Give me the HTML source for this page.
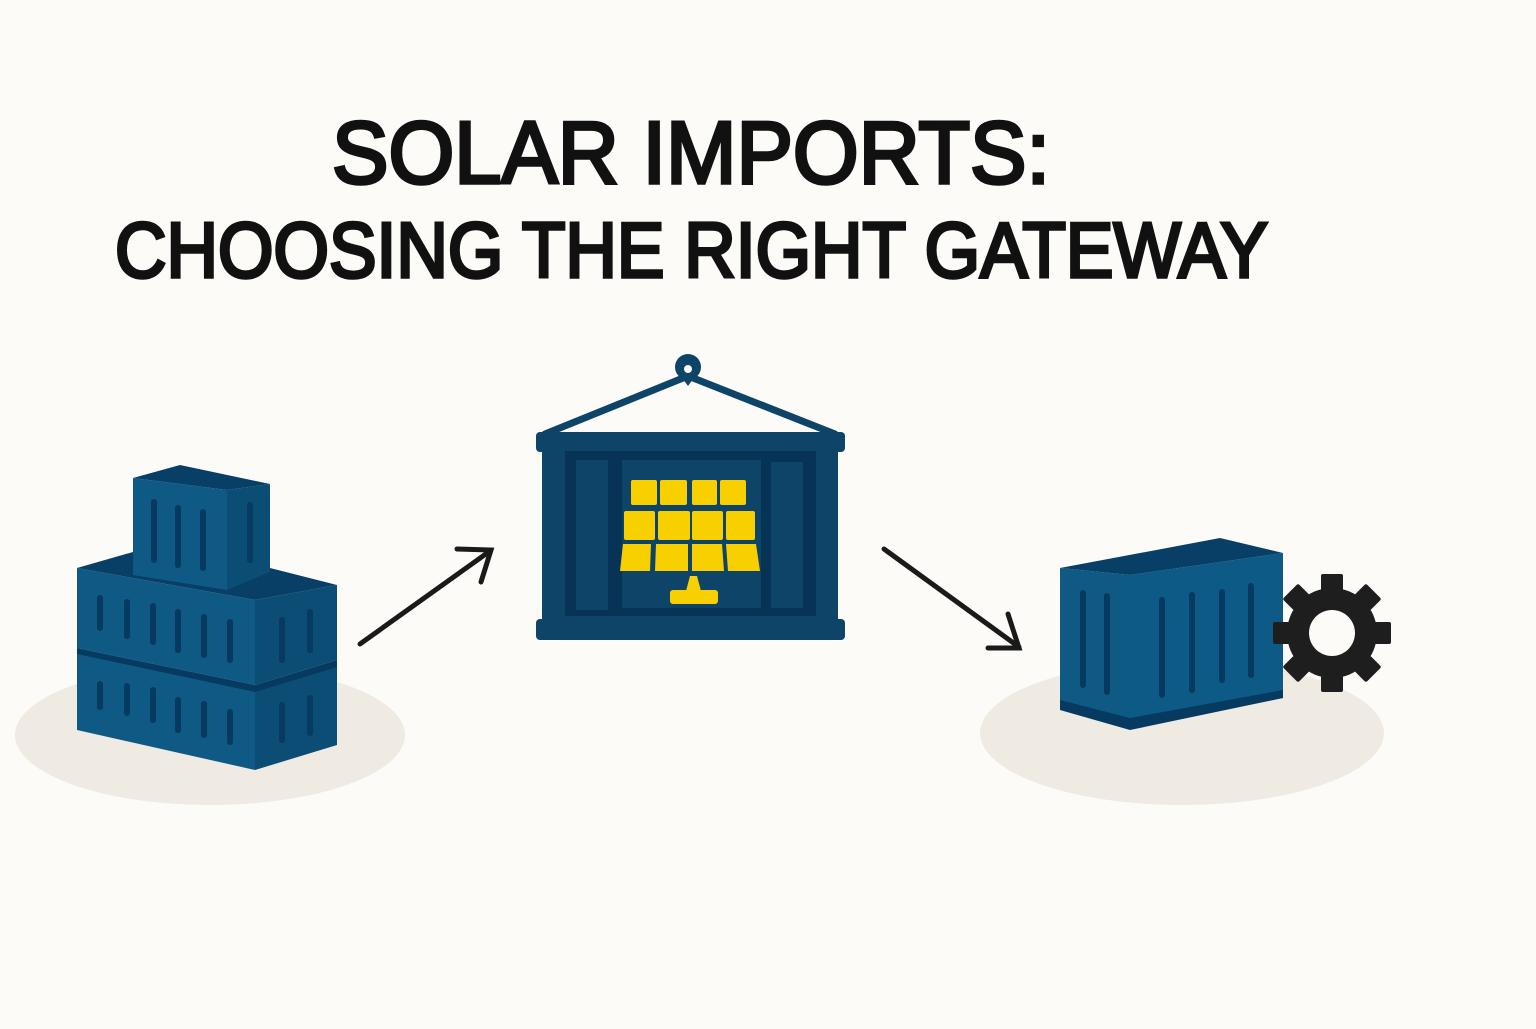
<!DOCTYPE html>
<html><head><style>html,body{margin:0;padding:0;background:#fcfbf8}</style></head>
<body>
<svg width="1536" height="1024" viewBox="0 0 1536 1024" xmlns="http://www.w3.org/2000/svg">
<rect width="1536" height="1024" fill="#fcfbf8"/>
<text x="332" y="183" font-family="Liberation Sans, sans-serif" font-size="88" fill="#111" stroke="#111" stroke-width="3.5" textLength="718" lengthAdjust="spacingAndGlyphs">SOLAR IMPORTS:</text>
<text x="115" y="277" font-family="Liberation Sans, sans-serif" font-size="78" fill="#111" stroke="#111" stroke-width="3.5" textLength="1153" lengthAdjust="spacingAndGlyphs">CHOOSING THE RIGHT GATEWAY</text>

<!-- left stack -->
<ellipse cx="210" cy="735" rx="195" ry="70" fill="#efebe3"/>
<g>
<polygon points="77,652 255,690 255,770 77,730" fill="#0e5a85"/>
<polygon points="255,690 337,665 337,745 255,770" fill="#0b4d75"/>
<polygon points="77,568 255,600 255,685 77,648" fill="#0e5a85"/>
<polygon points="255,600 337,585 337,660 255,685" fill="#0b4d75"/>
<polygon points="77,568 133,552 270,568 337,585 255,600" fill="#083f66"/>
<polygon points="77,648 255,685 337,660 337,667 255,692 77,654" fill="#063a60"/>
<polygon points="133,478 227,490 227,590 133,575" fill="#0e5a85"/>
<polygon points="227,490 270,484 270,572 227,590" fill="#0b4d75"/>
<polygon points="133,478 180,465 270,484 227,490" fill="#083f66"/>
<g stroke="#063a60" stroke-width="6" stroke-linecap="round">
<line x1="154" y1="502" x2="154" y2="560"/><line x1="178" y1="508" x2="178" y2="565"/><line x1="203" y1="512" x2="203" y2="568"/><line x1="250" y1="505" x2="250" y2="560"/>
<line x1="100" y1="598" x2="100" y2="628"/><line x1="127" y1="602" x2="127" y2="636"/><line x1="153" y1="606" x2="153" y2="642"/><line x1="178" y1="612" x2="178" y2="650"/><line x1="204" y1="617" x2="204" y2="655"/><line x1="230" y1="622" x2="230" y2="660"/><line x1="282" y1="620" x2="282" y2="660"/><line x1="310" y1="612" x2="310" y2="650"/>
<line x1="100" y1="684" x2="100" y2="707"/><line x1="127" y1="686" x2="127" y2="713"/><line x1="153" y1="690" x2="153" y2="720"/><line x1="178" y1="700" x2="178" y2="730"/><line x1="204" y1="704" x2="204" y2="735"/><line x1="230" y1="712" x2="230" y2="742"/><line x1="282" y1="705" x2="282" y2="740"/><line x1="310" y1="698" x2="310" y2="733"/>
</g></g>

<!-- arrows -->
<g stroke="#1a1a1a" stroke-width="5" stroke-linecap="round" fill="none">
<line x1="360" y1="644" x2="490" y2="551"/><polyline points="457,549 491,550 481,582"/>
<line x1="884" y1="549" x2="1019" y2="647"/><polyline points="1008,614 1019,648 988,648"/>
</g>

<!-- center container -->
<g>
<line x1="688" y1="376" x2="545" y2="434" stroke="#0d4468" stroke-width="7" stroke-linecap="round"/>
<line x1="688" y1="376" x2="835" y2="434" stroke="#0d4468" stroke-width="7" stroke-linecap="round"/>
<circle cx="688" cy="367" r="13" fill="#0d4468"/><polygon points="680,375 696,375 688,386" fill="#0d4468"/>
<circle cx="688" cy="369" r="4" fill="#fcfbf8"/>
<rect x="542" y="440" width="296" height="190" fill="#0d4468"/>
<rect x="536" y="432" width="309" height="20" rx="4" fill="#0d4468"/>
<rect x="536" y="619" width="309" height="21" rx="4" fill="#0d4468"/>
<rect x="565" y="451" width="251" height="165" fill="#073356"/>
<rect x="576" y="460" width="32" height="150" fill="#0d4468"/>
<rect x="622" y="460" width="139" height="148" fill="#0d4468"/>
<rect x="771" y="462" width="32" height="146" fill="#0d4468"/>
<g fill="#f8d000">
<rect x="631" y="480" width="26" height="25" rx="2"/><rect x="660" y="480" width="27" height="25" rx="2"/><rect x="692" y="480" width="25" height="25" rx="2"/><rect x="720" y="480" width="26" height="25" rx="2"/>
<rect x="624" y="511" width="31" height="29" rx="2"/><rect x="658" y="511" width="32" height="29" rx="2"/><rect x="692" y="511" width="31" height="29" rx="2"/><rect x="726" y="511" width="29" height="29" rx="2"/>
<polygon points="623,544 651,544 650,571 620,571"/><polygon points="656,544 688,544 688,571 655,571"/><polygon points="692,544 722,544 724,571 692,571"/><polygon points="726,544 756,544 760,571 728,571"/>
<polygon points="690,576 697,576 701,591 686,591"/>
<rect x="670" y="590" width="48" height="14" rx="3"/>
</g></g>

<!-- right container -->
<ellipse cx="1182" cy="733" rx="202" ry="72" fill="#efebe3"/>
<g>
<polygon points="1060,568 1130,575 1130,728 1060,702" fill="#0e5a85"/>
<polygon points="1130,575 1283,553 1283,698 1130,728" fill="#0d5a86"/>
<polygon points="1060,568 1220,538 1283,553 1130,575" fill="#083f66"/>
<polygon points="1060,700 1130,718 1283,690 1283,698 1130,730 1060,710" fill="#063a60"/>
<g stroke="#063a60" stroke-width="6" stroke-linecap="round">
<line x1="1083" y1="593" x2="1083" y2="685"/><line x1="1107" y1="596" x2="1107" y2="692"/>
<line x1="1162" y1="600" x2="1162" y2="695"/><line x1="1192" y1="595" x2="1192" y2="690"/><line x1="1222" y1="592" x2="1222" y2="680"/><line x1="1251" y1="586" x2="1251" y2="675"/>
</g>
<g transform="translate(1332,633)" fill="#1e1e1e">
<circle r="45"/>
<g id="t"><rect x="-11" y="-59" width="22" height="20" rx="2"/></g>
<use href="#t" transform="rotate(45)"/><use href="#t" transform="rotate(90)"/><use href="#t" transform="rotate(135)"/><use href="#t" transform="rotate(180)"/><use href="#t" transform="rotate(225)"/><use href="#t" transform="rotate(270)"/><use href="#t" transform="rotate(315)"/>
<circle r="23" fill="#fcfbf8"/>
</g></g>
</svg>
</body></html>
